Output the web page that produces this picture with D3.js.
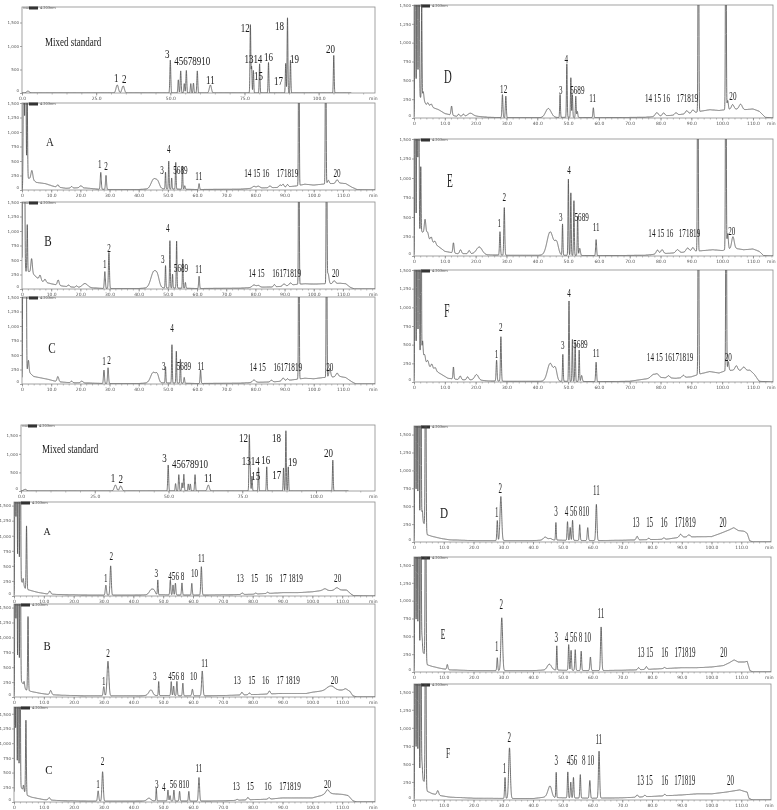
<!DOCTYPE html>
<html>
<head>
<meta charset="utf-8">
<script src="https://cdn.jsdelivr.net/npm/d3@7"></script>
<style>
  body { margin: 0; background: #fff; }
  svg { display: block; filter: grayscale(1); }
</style>
</head>
<body>
<div id="chart"></div>
<script>
// height used for peaks that run off the top of the plot
const OFF = 4000;

// ---------- mixed standard (upper set) ----------
// peaks: [retention time (min), height, width (min)]
const msTopPeaks = [[2.0,40,0.5],[32.1,170,0.4],[34.1,150,0.4],[50.0,700,0.15],[52.7,280,0.15],[53.5,470,0.15],
  [54.7,200,0.15],[55.4,480,0.15],[56.9,200,0.15],[57.8,210,0.15],[59.1,470,0.15],[63.5,170,0.35],
  [77.0,1450,0.13],[77.4,560,0.13],[78.0,480,0.13],[80.1,620,0.13],[83.1,650,0.13],[88.9,630,0.13],
  [89.5,1600,0.13],[90.5,700,0.13],[105.1,800,0.13]];
// labels: [text, time, value]
const msTopLabels = [["1",31.8,234],["2",34.5,213],["3",49,745],["45678910",57.4,595],["11",63.5,190],
  ["12",75.3,1300],["1314",78,640],["15",79.7,277],["16",83.1,680],["17",86.5,170],["18",86.8,1340],
  ["19",91.9,640],["20",104,850]];

// ---------- samples A-C (upper set) ----------
const aTopBase = [[0,0],[0.3,0],[0.8,200],[3,200],[5,130],[8,110],[11,60],[15,30],[20,40],[23,30],[26,15],[30,10],
  [40,10],[44,20],[48,20],[60,10],[75,15],[80,35],[86,40],[90,50],[94,70],[97,100],[100,85],[103,100],[106,110],
  [109,120],[111,110],[113,50],[115,5],[121,0]];
const aTopPeaks = [[0.6,OFF,0.15],[1.2,OFF,0.15],[1.8,1300,0.12],[3.4,150,0.3],[12.3,40,0.3],[17,25,0.3],[20.2,35,0.4],
  [27.0,290,0.17],[28.8,240,0.17],[45.2,170,0.9],[46.6,90,0.6],[49.2,290,0.12],[50.3,480,0.12],[51.3,190,0.12],
  [52.7,460,0.12],[55.0,400,0.12],[55.8,60,0.15],[60.7,100,0.15],[79.5,30,0.5],[81,30,0.5],[85,30,0.4],
  [88.5,40,0.4],[89.5,50,0.3],[91,40,0.3],[94.9,OFF,0.12],[104.1,OFF,0.12],[105,60,0.3],[108,60,0.4]];
const aTopLabels = [["1",26.7,380],["2",28.8,345],["3",48,280],["4",50.3,635],["5689",54.3,280],["11",60.6,170],
  ["14 15 16",80.5,220],["171819",91,220],["20",108,220]];

const bTopBase = [[0,0],[0.3,0],[0.8,300],[2.5,300],[4,250],[5,200],[7,130],[10,90],[14,50],[18,30],[24,20],[28,10],
  [40,10],[44,20],[48,20],[60,10],[75,15],[80,30],[86,35],[90,50],[94,80],[97,90],[100,85],[103,90],[106,90],
  [109,100],[111,90],[112.5,30],[114,0],[121,0]];
const bTopPeaks = [[0.3,OFF,0.15],[0.8,OFF,0.15],[1.8,810,0.12],[3.3,250,0.25],[6.2,80,0.3],[7.9,50,0.3],[12.4,90,0.3],
  [16,30,0.3],[18.7,25,0.3],[21.6,70,0.9],[28.4,290,0.17],[29.8,620,0.17],[45.2,280,1.0],[46.5,120,0.6],
  [49.2,385,0.12],[50.7,815,0.12],[51.6,240,0.12],[53.0,810,0.12],[55.1,500,0.12],[56,100,0.15],[60.7,210,0.15],
  [79.5,40,0.6],[81,30,0.5],[86.5,40,0.3],[89.8,40,0.4],[92,40,0.4],[94.9,OFF,0.12],[104.4,OFF,0.12],
  [104.9,180,0.3],[107,50,0.4]];
const bTopLabels = [["1",28.4,360],["2",29.8,640],["3",48.3,450],["4",50,980],["5689",54.5,290],["11",60.6,280],
  ["14 15",80.4,210],["16171819",90.7,210],["20",107.5,210]];

const cTopBase = [[0,0],[0.3,0],[0.8,250],[2.5,200],[4,130],[6,110],[9,80],[12,40],[16,25],[24,15],[28,10],[40,10],
  [44,20],[48,20],[60,10],[75,15],[80,30],[86,35],[90,55],[94,80],[97,100],[100,90],[103,110],[106,120],[109,130],
  [111,110],[113,40],[114.5,0],[121,0]];
const cTopPeaks = [[0.4,OFF,0.15],[0.9,OFF,0.15],[1.4,OFF,0.12],[2.2,200,0.2],[12.3,90,0.3],[17,25,0.3],[20.5,30,0.4],
  [28.1,230,0.17],[29.5,270,0.17],[45,180,0.9],[46.4,110,0.5],[49.2,280,0.12],[51.4,660,0.12],[52.9,550,0.12],
  [54.3,410,0.12],[55.6,100,0.15],[61.2,230,0.15],[79.5,40,0.5],[85.5,30,0.4],[89.5,50,0.4],[91,30,0.3],
  [94.9,OFF,0.12],[104.4,OFF,0.12],[105.5,150,0.3],[108,60,0.4]];
const cTopLabels = [["1",28.1,330],["2",29.8,345],["3",48.6,240],["4",51.4,900],["5689",55.5,240],["11",61.3,240],
  ["14 15",80.8,225],["16171819",91.1,225],["20",105.5,225]];

// ---------- samples D-F (upper set) ----------
const dTopBase = [[0,0],[0.3,0],[1,300],[3,250],[4,170],[6,140],[8,110],[10,60],[14,20],[20,25],[24,10],[30,5],[42,5],
  [50,10],[60,5],[75,10],[80,25],[85,40],[91,70],[93,90],[96,110],[99,100],[101,110],[104,120],[107,110],[110,120],
  [112,90],[114,10],[116.5,0]];
const dTopPeaks = [[0.4,OFF,0.12],[1.0,OFF,0.12],[1.6,OFF,0.12],[2.5,1230,0.1],[3,100,0.2],[4.5,40,0.3],[5.6,40,0.3],
  [12.2,120,0.2],[14.5,30,0.3],[16,30,0.3],[18.3,40,0.8],[28.7,305,0.15],[29.8,285,0.15],[43.6,120,0.9],
  [47.4,305,0.12],[49.6,710,0.12],[50.9,525,0.12],[51.4,300,0.12],[52.5,280,0.12],[53,80,0.15],[58.2,130,0.15],
  [78.8,50,0.5],[81,40,0.4],[85,30,0.4],[88.5,40,0.4],[90.5,40,0.4],[92.3,OFF,0.12],[101.2,OFF,0.12],
  [101.8,120,0.2],[103.4,60,0.4],[106,70,0.5]];
const dTopLabels = [["12",29.1,330],["3",47.6,320],["4",49.4,725],["5689",53,315],["11",58,215],
  ["14 15 16",79,215],["171819",88.7,215],["20",103.5,240]];

const eTopBase = [[0,0],[0.3,0],[1,350],[3,300],[4.5,220],[6,170],[8,120],[10,60],[14,30],[20,30],[24,15],[30,10],
  [42,10],[50,10],[60,5],[75,10],[80,30],[85,40],[91,60],[94,70],[97,80],[100,70],[102,90],[104,100],[107,80],
  [110,90],[112,60],[113.5,5],[116.5,0]];
const eTopPeaks = [[0.4,OFF,0.12],[1.0,OFF,0.12],[1.5,OFF,0.12],[2.2,825,0.1],[3.6,200,0.25],[4.4,80,0.3],[5.6,60,0.3],
  [6.8,40,0.3],[12.8,130,0.2],[15.1,50,0.3],[17.9,40,0.3],[21.2,90,0.9],[27.9,300,0.15],[29.3,610,0.15],
  [44.2,300,1.0],[46.3,150,0.6],[48.2,400,0.12],[50.1,975,0.12],[50.9,800,0.12],[51.9,700,0.12],[53.1,500,0.12],
  [53.8,90,0.2],[59.1,205,0.15],[79,50,0.4],[80.5,50,0.4],[85.5,40,0.5],[88.8,50,0.5],[90.5,50,0.4],
  [92.1,OFF,0.12],[101.2,OFF,0.12],[101.8,200,0.2],[103.5,150,0.4]];
const eTopLabels = [["1",27.7,375],["2",29.3,705],["3",47.6,450],["4",50.3,1045],["5689",54.4,450],["11",59.1,320],
  ["14 15 16",80.1,240],["171819",89.4,240],["20",103.1,270]];

const fTopBase = [[0,0],[0.3,0],[1,350],[2.8,400],[3.5,280],[5,200],[7,150],[9,100],[11,50],[15,30],[20,30],[24,15],
  [30,10],[42,10],[50,10],[60,5],[70,10],[75,40],[80,60],[85,50],[90,70],[93,110],[96,140],[99,120],[101,150],
  [104,160],[107,150],[109,160],[110.5,100],[112,10],[116.5,0]];
const fTopPeaks = [[0.4,OFF,0.12],[1.0,OFF,0.12],[1.6,OFF,0.12],[2.3,OFF,0.1],[2.8,150,0.15],[3.5,80,0.2],[4.5,60,0.3],
  [5.8,60,0.3],[6.9,40,0.3],[12.8,160,0.15],[15,50,0.3],[17.4,40,0.3],[20.3,70,0.6],[26.8,280,0.15],[28.2,595,0.15],
  [44.2,240,0.9],[45.9,150,0.5],[48.3,360,0.12],[50.3,1075,0.12],[51.4,560,0.12],[52.3,530,0.12],[53.6,420,0.12],
  [54.4,80,0.2],[59.1,260,0.15],[77.7,50,0.8],[79,40,0.5],[82.6,30,0.4],[87.4,30,0.4],[92.3,OFF,0.12],
  [101.3,OFF,0.12],[102,120,0.2],[104.6,60,0.4],[107,50,0.5]];
const fTopLabels = [["1",26.8,315],["2",28.2,680],["3",48.3,440],["4",50.3,1140],["5689",54,450],["11",59.1,330],
  ["14 15 16171819",83.1,285],["20",102,285]];

// ---------- mixed standard (lower set) ----------
const msBotPeaks = [[1.4,45,0.5],[32,160,0.4],[33.8,135,0.4],[49.9,700,0.15],[52.4,200,0.15],[53.5,440,0.15],
  [54.6,220,0.15],[55.2,450,0.15],[56.7,190,0.15],[57.4,190,0.15],[59,440,0.15],[63.5,160,0.35],[77.4,1480,0.13],
  [77.7,560,0.13],[78.3,400,0.13],[80.5,630,0.13],[83.3,650,0.13],[89,620,0.13],[89.8,1620,0.13],[90.6,650,0.13],
  [105.7,830,0.13]];
const msBotLabels = [["1",31.2,250],["2",33.8,205],["3",48.6,790],["45678910",57.3,610],["11",63.5,235],
  ["12",75.4,1325],["1314",77.9,700],["15",79.6,295],["16",83,715],["17",86.7,320],["18",86.6,1325],
  ["19",92,670],["20",104.2,920]];

// ---------- samples A-C (lower set) ----------
const aBotBase = [[0,0],[0.2,0],[0.6,400],[3,200],[3.8,120],[5,100],[8,60],[11,35],[15,25],[25,15],[40,15],[45,20],
  [50,20],[60,15],[70,20],[76,25],[80,30],[86,45],[90,55],[95,55],[100,70],[103,90],[106,90],[109,100],[111.5,100],
  [113,30],[114,5],[121,0]];
const aBotPeaks = [[0.4,OFF,0.12],[0.9,OFF,0.12],[1.5,OFF,0.12],[2.1,OFF,0.12],[3.1,100,0.15],[4.2,1050,0.13],
  [12,50,0.3],[30.8,165,0.2],[32.4,485,0.2],[46.1,90,0.7],[47,40,0.4],[48.2,245,0.12],[52.4,245,0.15],
  [53.3,165,0.15],[54.1,195,0.15],[56.3,200,0.15],[59.6,195,0.15],[62.8,470,0.18],[76.5,25,0.3],[81,15,0.3],
  [85,20,0.3],[104.2,30,0.6],[108.2,40,0.6]];
const aBotLabels = [["1",30.8,235],["2",32.6,595],["3",47.7,320],["456 8",54.4,260],["10",60.5,310],["11",62.8,570],
  ["13",75.8,235],["15",80.6,235],["16",85.4,235],["17 1819",92.9,235],["20",108.5,235]];

const bBotBase = [[0,0],[0.2,0],[0.6,400],[3,220],[4,120],[6,90],[9,60],[12,40],[16,30],[25,20],[40,20],[45,25],
  [50,25],[60,20],[70,25],[80,40],[85,50],[90,60],[98,60],[100,80],[103,100],[105,120],[108,110],[111,120],
  [112.5,100],[113.6,20],[115,0],[121,0]];
const bBotPeaks = [[0.4,OFF,0.12],[0.9,OFF,0.12],[1.5,OFF,0.12],[2.1,OFF,0.12],[3.4,80,0.15],[4.7,1240,0.13],
  [12.3,70,0.3],[30.1,155,0.2],[31.5,580,0.3],[45.5,50,0.6],[46.1,60,0.5],[48.5,235,0.12],[52.7,235,0.15],
  [53.5,160,0.15],[54.6,240,0.15],[56.6,210,0.15],[59.8,110,0.2],[63.1,415,0.22],[76.4,45,0.3],[78.9,30,0.3],
  [85.6,50,0.3],[106.3,70,1.2],[111.2,20,0.5]];
const bBotLabels = [["1",30.1,200],["2",31.5,670],["3",47.2,285],["456 8",54.4,285],["10",60.2,285],["11",63.9,505],
  ["13",74.8,210],["15",79.7,210],["16",84.3,210],["17 1819",91.9,210],["20",107.4,210]];

const cBotBase = [[0,0],[0.2,0],[0.6,400],[3,200],[4.5,110],[6,80],[10,40],[15,25],[25,15],[40,15],[45,20],[50,20],
  [60,15],[70,20],[80,40],[86,50],[90,70],[100,70],[103,110],[105,160],[107,140],[110,130],[112,110],[113.6,20],
  [115,0],[121,0]];
const cBotPeaks = [[0.3,OFF,0.12],[0.8,OFF,0.12],[1.4,OFF,0.12],[2.0,OFF,0.12],[3.2,100,0.15],[4.0,1250,0.13],
  [11.8,40,0.3],[28.2,175,0.2],[29.7,500,0.22],[45.2,45,0.6],[47.7,215,0.12],[51.6,185,0.15],[52.3,90,0.15],
  [53.6,185,0.15],[55.5,165,0.15],[58.6,165,0.15],[62,400,0.2],[74.8,15,0.3],[78.4,40,0.3],[85.5,25,0.3],
  [105.1,50,0.5]];
const cBotLabels = [["1",28.2,245],["2",29.7,625],["3",47.9,230],["4",50.2,190],["56 810",55.5,245],["11",62,510],
  ["13",74.5,200],["15",79.2,200],["16",85.1,200],["171819",92.5,200],["20",105.1,230]];

// ---------- samples D-F (lower set) ----------
const dBotBase = [[0,0],[0.2,0],[0.5,400],[3.5,250],[4.5,100],[6,80],[9,50],[12,30],[20,20],[40,20],[45,30],[50,25],
  [60,20],[70,25],[76,30],[85,40],[90,70],[100,75],[103,120],[106,170],[107.5,200],[109,160],[111,150],[112,120],
  [112.8,20],[114,0],[120,0]];
const dBotPeaks = [[0.4,OFF,0.12],[1.0,OFF,0.12],[1.6,OFF,0.12],[2.3,OFF,0.12],[2.8,150,0.15],[3.9,OFF,0.13],
  [28,280,0.15],[29.2,615,0.28],[44.1,40,0.6],[45.8,20,0.5],[47.7,245,0.12],[51.6,260,0.15],[52.5,180,0.15],
  [53.3,280,0.15],[55.7,220,0.15],[58.4,180,0.18],[61.3,505,0.2],[75,50,0.3],[78.9,20,0.3],[84,20,0.3],
  [89.6,40,0.4],[92.4,30,0.4]];
const dBotLabels = [["1",27.8,355],["2",29,690],["3",47.7,365],["4 56 810",54.8,365],["11",61.3,650],["13",74.6,210],
  ["15",79.2,210],["16",84,210],["171819",91.2,210],["20",103.9,210]];

const eBotBase = [[0,0],[0.2,0],[0.5,400],[3.5,250],[4.5,100],[6,80],[9,50],[12,30],[20,20],[40,20],[45,30],[50,25],
  [60,20],[70,25],[75,30],[85,50],[90,60],[95,60],[100,70],[104,90],[106,130],[107.6,170],[109,140],[111,140],
  [112,150],[112.9,20],[114,0],[120,0]];
const eBotPeaks = [[0.4,OFF,0.12],[1.0,OFF,0.12],[1.6,OFF,0.12],[2.3,OFF,0.12],[2.7,200,0.15],[3.9,OFF,0.13],
  [11.2,70,0.2],[28,180,0.15],[29.5,740,0.28],[45.5,80,0.7],[48,340,0.12],[52,360,0.15],[52.8,280,0.15],
  [54.2,290,0.15],[56.2,270,0.15],[59.3,190,0.18],[62.9,610,0.2],[75.5,30,0.3],[78.1,40,0.3],[84.2,15,0.3]];
const eBotLabels = [["1",27.8,290],["2",29.3,880],["3",47.8,420],["4 56 8 10",55.1,420],["11",62.8,750],
  ["13 15",77.8,210],["16",84.3,210],["171819",91.1,210],["20",104.1,210]];

const fBotBase = [[0,0],[0.2,0],[0.5,400],[3.5,250],[4.5,120],[6,90],[9,60],[12,40],[20,25],[40,20],[44,40],[50,30],
  [60,25],[70,30],[80,50],[90,70],[95,85],[100,85],[105,110],[108,130],[109.5,140],[111,120],[112,110],[112.6,20],
  [114,0],[120,0]];
const fBotPeaks = [[0.4,OFF,0.12],[1.0,OFF,0.12],[1.6,OFF,0.12],[2.3,OFF,0.12],[2.7,220,0.15],[3.9,OFF,0.13],
  [8,60,0.3],[30.6,290,0.15],[32.1,700,0.28],[45.3,80,0.6],[45.9,100,0.5],[47.8,350,0.12],[51.7,360,0.15],
  [52.7,220,0.15],[53.6,285,0.15],[55.9,325,0.15],[59.1,245,0.18],[62.2,650,0.2],[75,30,0.3],[77.6,20,0.3],
  [84.3,20,0.3]];
const fBotLabels = [["1",30.4,370],["2",32,810],["3",47.8,485],["456",53.1,485],["8 10",58.5,485],["11",62.1,775],
  ["13 15",77.6,210],["16",84.3,210],["171819",91,210],["20",106.4,210]];

// tick values
const msTicks = [0, 25, 50, 75, 100];
const sampleTicks = [0, 10, 20, 30, 40, 50, 60, 70, 80, 90, 100, 110];
const msYTicks = [0, 500, 1000, 1500];
const sampleYTicks = [0, 250, 500, 750, 1000, 1250, 1500];

// panel placement (pixels) and text styling
const MS = { xticks: msTicks, yticks: msYTicks, minor: 5, fs: 12, sx: 0.75, anchor: "start", tfs: 12, tsx: 0.75 };
const TL = { x0: 22, x1: 375, tmax: 121, ymax: 1500, xticks: sampleTicks, yticks: sampleYTicks, minor: 2, fs: 12, sx: 0.6, anchor: "middle" };
const TR = { x0: 414, x1: 773, tmax: 116.5, ymax: 1500, xticks: sampleTicks, yticks: sampleYTicks, minor: 2, fs: 13, sx: 0.55, anchor: "middle" };
const BL = { x0: 14, x1: 375, tmax: 121, xticks: sampleTicks, yticks: sampleYTicks, minor: 2, fs: 12, sx: 0.6, anchor: "middle" };
const BR = { x0: 414, x1: 771, tmax: 120, xticks: sampleTicks, yticks: sampleYTicks, minor: 2, fs: 14, sx: 0.5, anchor: "middle" };

const panels = [
  { ...MS, x0: 22, x1: 375, y0: 7, y1: 93, tmax: 119, ymax: 1830, tend: 111, peaks: msTopPeaks, labels: msTopLabels,
    title: "Mixed standard", tx: 45, ty: 46 },
  { ...TL, y0: 103, y1: 190, base: aTopBase, peaks: aTopPeaks, labels: aTopLabels, title: "A", tx: 50, ty: 146, tfs: 12, tsx: 0.9 },
  { ...TL, y0: 202, y1: 289, base: bTopBase, peaks: bTopPeaks, labels: bTopLabels, title: "B", tx: 48, ty: 246, tfs: 14, tsx: 0.8 },
  { ...TL, y0: 297, y1: 384, base: cTopBase, peaks: cTopPeaks, labels: cTopLabels, title: "C", tx: 52, ty: 353, tfs: 14, tsx: 0.8 },
  { ...TR, y0: 5, y1: 118, base: dTopBase, peaks: dTopPeaks, labels: dTopLabels, title: "D", tx: 448, ty: 83, tfs: 18, tsx: 0.6 },
  { ...TR, y0: 139, y1: 256, base: eTopBase, peaks: eTopPeaks, labels: eTopLabels, title: "E", tx: 450, ty: 187, tfs: 19, tsx: 0.5 },
  { ...TR, y0: 270, y1: 382, base: fTopBase, peaks: fTopPeaks, labels: fTopLabels, title: "F", tx: 447, ty: 317, tfs: 19, tsx: 0.5 },
  { ...MS, x0: 21, x1: 375, y0: 425, y1: 491, tmax: 120, ymax: 1775, tend: 111, peaks: msBotPeaks, labels: msBotLabels,
    title: "Mixed standard", tx: 42, ty: 453 },
  { ...BL, y0: 502, y1: 596, ymax: 1560, base: aBotBase, peaks: aBotPeaks, labels: aBotLabels, title: "A", tx: 47, ty: 535, tfs: 11, tsx: 0.9 },
  { ...BL, y0: 604, y1: 697, ymax: 1560, base: bBotBase, peaks: bBotPeaks, labels: bBotLabels, title: "B", tx: 47, ty: 650, tfs: 12, tsx: 0.9 },
  { ...BL, y0: 707, y1: 802, ymax: 1615, base: cBotBase, peaks: cBotPeaks, labels: cBotLabels, title: "C", tx: 49, ty: 774, tfs: 13, tsx: 0.85 },
  { ...BR, y0: 426, y1: 542, ymax: 1620, base: dBotBase, peaks: dBotPeaks, labels: dBotLabels, title: "D", tx: 444, ty: 518, tfs: 14, tsx: 0.8 },
  { ...BR, y0: 557, y1: 672, ymax: 1612, base: eBotBase, peaks: eBotPeaks, labels: eBotLabels, title: "E", tx: 443, ty: 639, tfs: 15, tsx: 0.5 },
  { ...BR, y0: 684, y1: 800, ymax: 1607, base: fBotBase, peaks: fBotPeaks, labels: fBotLabels, title: "F", tx: 448, ty: 758, tfs: 15, tsx: 0.5 }
];

const serif = "'Liberation Serif', 'Times New Roman', serif";

// build a trace: baseline drift plus a gaussian for every listed peak
function trace(p) {
  const base = p.base || [[0, 0], [p.tmax, 0]];
  const drift = d3.scaleLinear().domain(base.map(d => d[0])).range(base.map(d => d[1])).clamp(true);
  const end = p.tend || p.tmax;
  const pts = [];
  for (let i = 0; i * 0.02 <= end; i++) {
    const t = i * 0.02;
    let v = drift(t);
    for (const [c, h, w] of p.peaks) {
      const z = (t - c) / w;
      if (Math.abs(z) < 7) v += h * Math.exp(-0.5 * z * z);
    }
    pts.push([t, v]);
  }
  return pts;
}

const svg = d3.select("#chart").append("svg")
  .attr("width", 777)
  .attr("height", 810);

const defs = svg.append("defs");

panels.forEach((p, i) => {
  const x = d3.scaleLinear().domain([0, p.tmax]).range([p.x0, p.x1]);
  const y = d3.scaleLinear().domain([0, p.ymax]).range([p.y1, p.y0]);
  const g = svg.append("g");

  defs.append("clipPath").attr("id", "clip" + i)
    .append("rect")
    .attr("x", p.x0).attr("y", p.y0)
    .attr("width", p.x1 - p.x0).attr("height", p.y1 - p.y0);

  // minor ticks along the time axis
  const minor = d3.range(0, p.tmax, p.minor);
  g.append("g")
    .attr("transform", `translate(0,${p.y1})`)
    .call(d3.axisBottom(x).tickValues(minor).tickSize(1.5).tickFormat(""))
    .call(a => a.select(".domain").remove())
    .call(a => a.selectAll("line").attr("stroke", "#777").attr("stroke-width", 0.5));

  // major time ticks
  const fmtX = p.xticks === msTicks ? d3.format(".1f") : (d => d === 0 ? "0" : d3.format(".1f")(d));
  g.append("g")
    .attr("transform", `translate(0,${p.y1})`)
    .call(d3.axisBottom(x).tickValues(p.xticks).tickSize(2.5).tickPadding(1.5).tickFormat(fmtX))
    .call(a => a.select(".domain").remove())
    .call(a => a.selectAll("line").attr("stroke", "#666").attr("stroke-width", 0.6))
    .call(a => a.selectAll("text").attr("font-size", 4.5).attr("fill", "#555").attr("font-family", "'DejaVu Sans', sans-serif"));

  g.append("text")
    .attr("x", p.x1 - 6).attr("y", p.y1 + 7)
    .attr("font-size", 4.5).attr("fill", "#555")
    .attr("font-family", "'DejaVu Sans', sans-serif")
    .text("min");

  // intensity axis
  g.append("g")
    .attr("transform", `translate(${p.x0},0)`)
    .call(d3.axisLeft(y).tickValues(p.yticks).tickSize(2).tickPadding(1).tickFormat(d3.format(",")))
    .call(a => a.select(".domain").remove())
    .call(a => a.selectAll("line").attr("stroke", "#666").attr("stroke-width", 0.6))
    .call(a => a.selectAll("text")
      .attr("font-size", 4).attr("fill", "#555").attr("font-family", "'DejaVu Sans', sans-serif")
      .attr("dy", d => d === 0 ? "-0.3em" : "0.32em"));

  // frame
  g.append("rect")
    .attr("x", p.x0).attr("y", p.y0)
    .attr("width", p.x1 - p.x0).attr("height", p.y1 - p.y0)
    .attr("fill", "none")
    .attr("stroke", "#8c8c8c")
    .attr("stroke-width", 0.8);

  // detector header: unit, marker block, wavelength
  g.append("text")
    .attr("x", p.x0 + 1).attr("y", p.y0 + 2.2)
    .attr("font-size", 3).attr("fill", "#444")
    .attr("font-family", "'DejaVu Sans', sans-serif")
    .text("mAU");
  g.append("rect")
    .attr("x", p.x0 + 7).attr("y", p.y0 - 0.5)
    .attr("width", 9).attr("height", 3)
    .attr("fill", "#333");
  g.append("text")
    .attr("x", p.x0 + 18).attr("y", p.y0 + 2.2)
    .attr("font-size", 3.5).attr("fill", "#444")
    .attr("font-family", "'DejaVu Sans', sans-serif")
    .text("4.203nm");

  // chromatogram
  const line = d3.line().x(d => x(d[0])).y(d => y(d[1]));
  g.append("path")
    .attr("clip-path", `url(#clip${i})`)
    .attr("d", line(trace(p)))
    .attr("fill", "none")
    .attr("stroke", "#4d4d4d")
    .attr("stroke-width", 0.8)
    .attr("stroke-linejoin", "round");

  // peak numbers
  g.selectAll("text.peak")
    .data(p.labels)
    .join("text")
    .attr("class", "peak")
    .attr("transform", d => `translate(${x(d[1])},${y(d[2])}) scale(${p.sx},1)`)
    .attr("text-anchor", "middle")
    .attr("font-family", serif)
    .attr("font-size", p.fs)
    .attr("fill", "#1a1a1a")
    .text(d => d[0]);

  // panel title
  g.append("text")
    .attr("transform", `translate(${p.tx},${p.ty}) scale(${p.tsx},1)`)
    .attr("text-anchor", p.anchor)
    .attr("font-family", serif)
    .attr("font-size", p.tfs)
    .attr("fill", "#1a1a1a")
    .text(p.title);
});
</script>
</body>
</html>
